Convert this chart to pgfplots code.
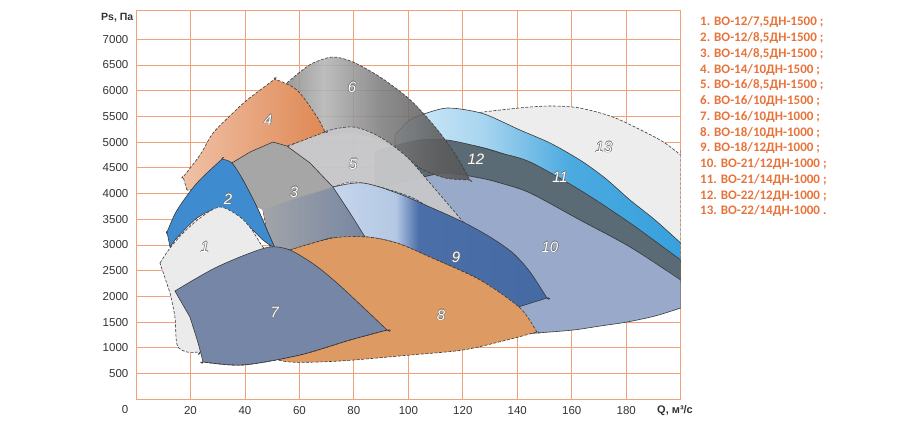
\documentclass[border=0pt]{standalone}
\usepackage{fontspec}
\setmainfont{Liberation Sans}
\newfontfamily\legfont{Carlito}
\usepackage{pgfplots}
\pgfplotsset{compat=1.18}

\definecolor{gridc}{HTML}{F2A07A}
\definecolor{tickc}{HTML}{333333}
\definecolor{legc}{HTML}{E8733A}
\definecolor{edgec}{HTML}{3A3A3A}
\definecolor{lblgray}{HTML}{6E6E6E}
\definecolor{c1}{HTML}{EBEBEB}
\definecolor{c2}{HTML}{3F8BD0}
\definecolor{c3}{HTML}{A6A6A6}
\definecolor{c3a}{HTML}{A2A4A8}
\definecolor{c3b}{HTML}{7686A2}
\definecolor{c4a}{HTML}{F0C2A8}
\definecolor{c4b}{HTML}{DE8650}
\definecolor{c5}{HTML}{C6C6C8}
\definecolor{c6a}{HTML}{8E8E8E}
\definecolor{c6b}{HTML}{B4B4B4}
\definecolor{c6c}{HTML}{7E7E7E}
\definecolor{c6d}{HTML}{5E5E5E}
\definecolor{c6e}{HTML}{555555}
\definecolor{c7}{HTML}{7586A6}
\definecolor{c8}{HTML}{DE9A63}
\definecolor{c9a}{HTML}{A8B4C8}
\definecolor{c9b}{HTML}{C6D6EC}
\definecolor{c9c}{HTML}{B4C8E4}
\definecolor{c9d}{HTML}{4A6EA8}
\definecolor{c9e}{HTML}{4569A3}
\definecolor{c10}{HTML}{98A9C9}
\definecolor{c11a}{HTML}{D6ECF8}
\definecolor{c11b}{HTML}{A8D5F0}
\definecolor{c11c}{HTML}{4BAAE0}
\definecolor{c11d}{HTML}{36A0DC}
\definecolor{c12}{HTML}{5A6B75}
\definecolor{c13}{HTML}{EDEDED}

\pgfdeclarehorizontalshading{shsix}{100bp}{color(0bp)=(c6a); color(25bp)=(c6a); color(35bp)=(c6b); color(50bp)=(c6c); color(65bp)=(c6d); color(75bp)=(c6e); color(100bp)=(c6e)}
\pgfdeclarehorizontalshading{shnine}{100bp}{color(0bp)=(c9a); color(25bp)=(c9a); color(37bp)=(c9b); color(48bp)=(c9c); color(52bp)=(c9d); color(54bp)=(c9d); color(75bp)=(c9e); color(100bp)=(c9e)}
\pgfdeclarehorizontalshading{sheleven}{100bp}{color(0bp)=(c11a); color(25bp)=(c11a); color(40bp)=(c11b); color(55bp)=(c11c); color(75bp)=(c11d); color(100bp)=(c11d)}

\tikzset{
  shp/.style={draw=edgec, line width=0.6pt},
  dsh/.style={dash pattern=on 3pt off 1.6pt},
  nl/.style={font=\fontsize{15}{15}\selectfont\itshape, inner sep=0pt},
}
\pgfplotsset{sm/.style={smooth, tension=0.5}}
\newcommand\nlab[3]{%
  \node[nl,text=lblgray,xshift=0.6pt] at (axis cs:#1,#2) {#3};
  \node[nl,text=lblgray,xshift=-0.6pt] at (axis cs:#1,#2) {#3};
  \node[nl,text=lblgray,yshift=0.6pt] at (axis cs:#1,#2) {#3};
  \node[nl,text=lblgray,yshift=-0.6pt] at (axis cs:#1,#2) {#3};
  \node[nl,text=white] at (axis cs:#1,#2) {#3};
}

\begin{document}
\begin{tikzpicture}
\path[use as bounding box] (-136pt,-23.7pt) rectangle (774pt,399.3pt);
\begin{axis}[
  scale only axis, width=544.7pt, height=389.3pt,
  at={(0pt,0pt)}, anchor=south west,
  xmin=0, xmax=200, ymin=0, ymax=7570,
  xtick={20,40,...,180}, ytick={500,1000,...,7000},
  grid=major, major grid style={gridc, line width=0.8pt},
  axis line style={gridc, line width=0.8pt},
  major tick length=0pt, tick style={draw=none},
  tick label style={font=\fontsize{11.5}{12}\selectfont, text=tickc, inner sep=0pt},
  /pgf/number format/assume math mode=true,
  /pgf/number format/1000 sep={},
  xticklabel style={anchor=north, yshift=-6.5pt},
  yticklabel style={anchor=east, xshift=-7.5pt},
]
% 13
\addplot[shp, dsh, sm, fill=c13] coordinates {(124.5,5567) (133.7,5625) (144.7,5684) (153.1,5703) (163.0,5664) (175.1,5489) (187.6,5178) (194.2,4984) (200,4750) (200,4750) (200,2670) (200,2670) (181.4,3778) (163.0,4556) (141.0,5139) (126.3,5470)} -- cycle;
% 11
\addplot[shp, sm, shade, shading=sheleven] coordinates {(95.1,5139) (100.6,5431) (107.9,5586) (114.2,5664) (121.5,5625) (128.9,5528) (141.0,5236) (152.0,4984) (163.0,4653) (172.2,4303) (181.4,3875) (190.6,3486) (200,3039) (200,3039) (200,2670) (200,2670) (181.4,3389) (163.0,4031) (144.7,4575) (126.3,4906) (107.9,5003) (95.1,4886)} -- cycle;
% 12
\addplot[shp, sm, fill=c12] coordinates {(87.8,4809) (93.3,4906) (104.3,5042) (114.2,5042) (126.3,4906) (133.7,4789) (144.7,4614) (163.0,4070) (181.4,3428) (200,2709) (200,2709) (200,2281) (200,2281) (181.4,2961) (163.0,3486) (144.7,4011) (133.7,4206) (126.3,4303) (114.2,4400) (105.4,4322) (93.3,4167) (87.8,4070)} -- cycle;
% 10
\addplot[shp, sm, fill=c10] coordinates {(82.2,4070) (93.3,4167) (105.4,4322) (114.2,4400) (126.3,4303) (133.7,4206) (144.7,4011) (163.0,3486) (181.4,2961) (200,2320) (200,2320) (200,1775) (200,1775) (190.6,1620) (180.3,1503) (170.4,1425) (160.5,1347) (147.2,1289) (133.7,1231) (133.7,1231) (122.6,1931) (104.3,3097) (89.6,3584)} -- cycle;
% 6
\addplot[shp, dsh, sm, shade, shading=shsix, fill opacity=0.88] coordinates {(55.4,6150) (60.2,6364) (65.0,6539) (72.3,6656) (79.7,6558) (89.6,6267) (99.5,5878) (105.4,5567) (111.6,5178) (117.9,4711) (122.6,4264) (122.6,4264) (113.5,4303) (104.3,4497) (96.9,4809) (89.6,5042) (78.6,5197) (67.6,5120) (58.4,5236) (55.4,5820)} -- cycle;
% 5
\addplot[shp, dsh, sm, fill=c5, fill opacity=0.97] coordinates {(55.4,4906) (68.7,5197) (79.7,5295) (89.6,5100) (99.5,4711) (107.9,4206) (116.4,3681) (120.1,3447) (120.1,3447) (111.6,3603) (101.7,3914) (89.6,4128) (79.7,4225) (72.3,4128) (72.3,4128) (63.9,4556)} -- cycle;
% 4
\addplot[shp, dsh, sm, left color=c4a, right color=c4b] coordinates {(18.7,4070) (17.3,4322) (17.3,4322) (23.5,4750) (28.3,5178) (35.6,5567) (40.8,5820) (51.0,6228) (51.0,6228) (59.1,6014) (66.5,5489) (69.4,5197) (69.4,5197) (55.4,4925) (35.2,4595) (23.5,4070)} -- cycle;
% 9
\addplot[shp, sm, shade, shading=shnine] coordinates {(46.6,3681) (60.2,3934) (72.3,4128) (83.3,4206) (95.8,4011) (107.9,3739) (120.1,3447) (130.0,3156) (138.4,2845) (144.7,2475) (150.9,1970) (150.9,1970) (139.2,1775) (139.2,1775) (126.3,2320) (107.9,2767) (95.8,3039) (84.8,3156) (72.3,3136) (56.5,2903) (49.2,2961)} -- cycle;
% 3 upper
\addplot[draw=none, fill=c3] coordinates {(35.2,4595) (41.9,4809) (50.3,5003) (55.4,4925) (63.9,4595) (72.3,4128) (60.2,3934) (46.6,3681) (44.4,3739) (39.3,4264)} -- cycle;
% 3 lower
\addplot[draw=none, left color=c3a, right color=c3b] coordinates {(46.6,3681) (60.2,3934) (72.3,4128) (78.6,3622) (84.1,3156) (71.2,3137) (56.5,2903) (51.0,2942) (48.1,3292)} -- cycle;
\addplot[draw=gray!70, line width=0.4pt] coordinates {(46.6,3681) (60.2,3934) (72.3,4128)};
% 3 outline
\addplot[draw=edgec, line width=0.6pt] coordinates {(35.2,4595) (41.9,4809) (50.3,5003) (55.4,4925) (63.9,4595) (72.3,4128) (78.6,3622) (84.1,3156) (71.2,3137) (56.5,2903) (51.0,2942) (48.1,3292) (44.4,3739) (39.3,4264)} -- cycle;
% 2
\addplot[shp, sm, fill=c2] coordinates {(12.5,2961) (11.4,3253) (11.4,3253) (15.1,3681) (22.4,4206) (31.6,4672) (31.6,4672) (35.2,4595) (39.3,4264) (44.4,3739) (48.1,3292) (51.0,2942) (51.0,2942) (46.6,3097) (38.2,3525) (30.8,3720) (22.4,3525) (14.3,3097)} -- cycle;
% 1
\addplot[shp, dsh, sm, fill=c1] coordinates {(8.8,2650) (12.5,2942) (17.3,3234) (23.5,3525) (30.8,3739) (38.2,3545) (42.6,3292) (46.6,2962) (49.9,2864) (49.9,2864) (38.2,1931) (23.5,920) (23.5,920) (18.7,920) (15.1,1056) (14.3,1600) (12.5,2067)} -- cycle;
% 8
\addplot[shp, dsh, sm, fill=c8] coordinates {(56.5,2903) (72.3,3136) (84.8,3156) (95.8,3039) (107.9,2767) (126.3,2320) (141.0,1775) (147.2,1309) (147.2,1309) (136.2,1153) (120.1,959) (100.6,861) (74.9,745) (56.5,725) (45.5,861) (45.5,861) (43.7,1931)} -- cycle;
% 7
\addplot[shp, sm, fill=c7] coordinates {(14.3,2106) (21.7,2339) (29.7,2572) (40.0,2806) (49.2,2962) (56.5,2903) (65.7,2611) (73.8,2261) (83.3,1795) (92.2,1347) (92.2,1347) (78.6,1153) (60.2,861) (39.3,667) (24.6,725) (24.6,725) (22.8,1095) (19.8,1600)} -- cycle;
\addplot[draw=edgec, line width=0.6pt, dsh, sm] coordinates {(92.2,1347) (78.6,1153) (60.2,861) (39.3,667) (24.6,725)};

\nlab{25.3}{2962}{1}
\nlab{33.8}{3895}{2}
\nlab{58.0}{4031}{3}
\nlab{48.5}{5431}{4}
\nlab{79.7}{4575}{5}
\nlab{79.3}{6072}{6}
\nlab{51.0}{1697}{7}
\nlab{112.0}{1639}{8}
\nlab{117.5}{2767}{9}
\nlab{152.0}{2961}{10}
\nlab{155.7}{4322}{11}
\nlab{124.8}{4672}{12}
\nlab{171.8}{4906}{13}
\end{axis}
\node[font=\fontsize{11.5}{12}\selectfont, text=tickc, inner sep=0pt] at (-11pt,-10.7pt) {0};
\node[font=\fontsize{10.5}{12}\selectfont\bfseries, text=tickc, inner sep=0pt, anchor=base west] at (-35pt,378.3pt) {Ps, Па};
\node[font=\fontsize{11}{12}\selectfont\bfseries, text=tickc, inner sep=0pt, anchor=base west] at (521pt,-14.7pt) {Q, м³/с};
\foreach \t [count=\i from 0] in {%
1. ВО-12/7{,}5ДН-1500 ;,
2. ВО-12/8{,}5ДН-1500 ;,
3. ВО-14/8{,}5ДН-1500 ;,
4. ВО-14/10ДН-1500 ;,
5. ВО-16/8{,}5ДН-1500 ;,
6. ВО-16/10ДН-1500 ;,
7. ВО-16/10ДН-1000 ;,
8. ВО-18/10ДН-1000 ;,
9. ВО-18/12ДН-1000 ;,
10. ВО-21/12ДН-1000 ;,
11. ВО-21/14ДН-1000 ;,
12. ВО-22/12ДН-1000 ;,
13. ВО-22/14ДН-1000 .}{
  \node[font=\legfont\bfseries\fontsize{13}{15}\selectfont, text=legc, inner sep=0pt, anchor=base west] at (564pt,{373.3pt-\i*15.75pt}) {\t};
}
\end{tikzpicture}
\end{document}
